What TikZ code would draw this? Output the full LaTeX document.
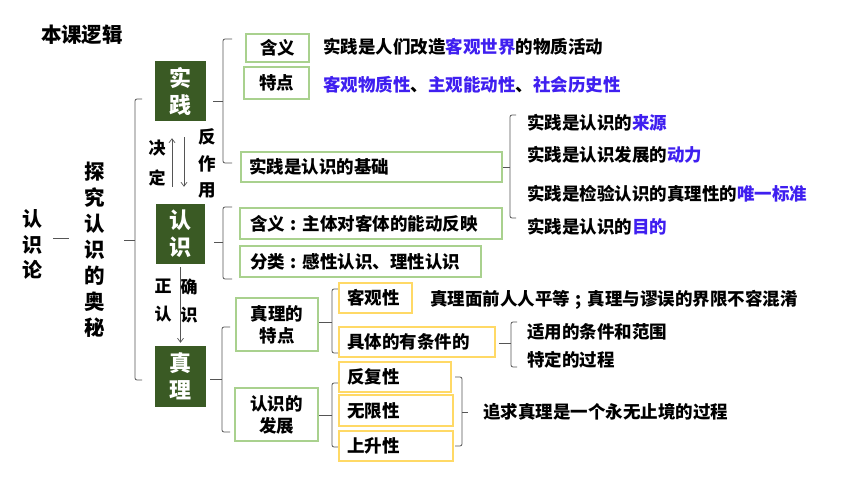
\documentclass[tikz,border=0pt]{standalone}
\usepackage{fontspec}
\setmainfont{Noto Sans CJK SC}
\usetikzlibrary{arrows.meta}
\definecolor{dg}{HTML}{3A5A24}
\definecolor{lg}{HTML}{A9D18E}
\definecolor{yl}{HTML}{FFD966}
\definecolor{bl}{HTML}{3F1FF0}
\definecolor{br}{HTML}{555555}
\newcommand{\mybrace}[4]{\draw[brk] (#2,#3) -- (#1,#3) -- (#1,#4) -- (#2,#4);}
\newcommand{\ccolon}{\makebox[1em][c]{:}}
\newcommand{\csemi}{\makebox[1em][c]{;}}
\begin{document}
\begin{tikzpicture}[x=1pt,y=-1pt,
  darkbox/.style={fill=dg, text=white, font=\fontsize{22}{27}\selectfont\bfseries, align=center, inner sep=0pt, minimum width=51pt, minimum height=60pt},
  lgbox/.style={draw=lg, line width=1.2pt, inner sep=0pt, font=\fontsize{17.5}{22}\selectfont\bfseries, align=center},
  ybox/.style={draw=yl, line width=1.2pt, inner sep=0pt, font=\fontsize{17.5}{22}\selectfont\bfseries, align=left},
  txt/.style={anchor=west, inner sep=0pt, font=\fontsize{17.5}{22}\selectfont\bfseries},
  vtxt/.style={inner sep=0pt, align=center},
  brk/.style={draw=br, line width=0.8pt, rounded corners=2pt},
  arr/.style={draw=br, line width=0.7pt, -{Straight Barb[length=4pt,width=6pt]}}
]
\useasboundingbox (0,0) rectangle (860,484);
\fill[white] (0,0) rectangle (860,484);

% title
\node[inner sep=0pt, font=\fontsize{20.5}{24}\selectfont\bfseries] (title) at (82,35) {本课逻辑};

% vertical labels
\node[vtxt, font=\fontsize{20}{25.5}\selectfont\bfseries] (rsl) at (33,244.5) {认\\识\\论};
\node[vtxt, font=\fontsize{20.5}{26}\selectfont\bfseries] (tj) at (95,250) {探\\究\\认\\识\\的\\奥\\秘};
\coordinate (dashL) at (53,238);
\coordinate (dashR) at (69,238);
\draw[brk] (dashL) -- (dashR);

% big bracket
\mybrace{135}{142}{99}{380}
\coordinate (b0) at (135,240);
\draw[brk] (b0) -- ++(-11,0);

% main dark boxes
\node[darkbox] (shijian) at (180.5,91) {实\\践};
\node[darkbox, minimum width=49pt] (renshi) at (180.5,234) {认\\识};
\node[darkbox, minimum height=61pt] (zhenli) at (180.5,376.5) {真\\理};

% arrows between
\draw[arr, shorten <=17pt, shorten >=17pt] ([xshift=-8.5pt]renshi.north) -- ([xshift=-8.5pt]shijian.south);
\draw[arr, shorten <=16pt, shorten >=17pt] ([xshift=3.5pt]shijian.south) -- ([xshift=3.5pt]renshi.north);
\draw[arr, shorten <=3pt, shorten >=3pt] (renshi.south) -- (zhenli.north);
\node[vtxt, font=\fontsize{17}{30}\selectfont\bfseries] (jd) at (157,163) {决\\定};
\node[vtxt, font=\fontsize{17.5}{26.5}\selectfont\bfseries] (fzy) at (207,163.5) {反\\作\\用};
\node[vtxt, font=\fontsize{17}{28}\selectfont\bfseries] (zr) at (163,301) {正\\认};
\node[vtxt, font=\fontsize{17}{28}\selectfont\bfseries] (qs) at (189,301) {确\\识};

% ---- 实践 branch
\mybrace{223}{232}{39}{163}
\coordinate (b1) at (223,101);
\draw[brk, shorten >=7pt] (b1) -- (b1 -| shijian.east);
\node[lgbox, minimum width=63pt, minimum height=28pt] (hy1) at (277.5,48) {含义};
\node[lgbox, minimum width=65pt, minimum height=32pt] (td1) at (276.5,83) {特点};
\node[txt] (t1) at (323,47) {实践是人们改造\textcolor{bl}{客观世界}的物质活动};
\node[txt, text=bl] (t2) at (323,85) {客观物质性\textcolor{black}{、}主观能动性\textcolor{black}{、}社会历史性};
\node[lgbox, align=left, text width=245pt, inner xsep=8pt, minimum height=30pt] (jc) at (371.5,167) {实践是认识的基础};

\mybrace{510}{516}{115}{218}
\coordinate (b2) at (510,167);
\draw[brk] (b2) -- (jc.east);
\node[txt] (ly) at (527,123) {实践是认识的\textcolor{bl}{来源}};
\node[txt] (dl) at (527,155) {实践是认识发展的\textcolor{bl}{动力}};
\node[txt] (wy) at (527,194) {实践是检验认识的真理性的\textcolor{bl}{唯一标准}};
\node[txt] (md) at (527,227) {实践是认识的\textcolor{bl}{目的}};

% ---- 认识 branch
\mybrace{223}{232}{207}{279}
\coordinate (b3) at (223,242);
\draw[brk, shorten >=9pt] (b3) -- (b3 -| renshi.east);
\node[lgbox, align=left, text width=242pt, inner xsep=10pt, minimum height=31pt] (hy2) at (371,223.5) {含义\ccolon 主体对客体的能动反映};
\node[lgbox, align=left, text width=221pt, inner xsep=10pt, minimum height=31pt] (fl) at (360.5,261.5) {分类\ccolon 感性认识、理性认识};

% ---- 真理 branch
\mybrace{222}{230}{327}{432}
\coordinate (b5) at (222,379);
\draw[brk, shorten >=4pt] (b5) -- (b5 -| zhenli.east);
\node[lgbox, minimum width=82pt, minimum height=53pt] (tzd) at (277,324.5) {真理的\\特点};
\node[lgbox, minimum width=83pt, minimum height=53pt] (fz) at (276.5,414.5) {认识的\\发展};

\mybrace{332}{338}{289}{353}
\coordinate (b6) at (332,322);
\draw[brk] (b6) -- (b6 -| tzd.east);
\mybrace{332}{338}{383}{447}
\coordinate (b7) at (332,415);
\draw[brk] (b7) -- (b7 -| fz.east);

\node[ybox, text width=57pt, inner xsep=8pt, minimum height=30pt] (kgx) at (375.5,298) {客观性};
\node[ybox, text width=140pt, inner xsep=8pt, minimum height=30pt] (jt) at (417,342) {具体的有条件的};
\node[ybox, text width=96pt, inner xsep=8pt, minimum height=30pt] (ffx) at (395,377) {反复性};
\node[ybox, text width=98pt, inner xsep=8pt, minimum height=31pt] (wxx) at (396,410.5) {无限性};
\node[ybox, text width=98pt, inner xsep=8pt, minimum height=30pt] (ssx) at (396,446) {上升性};

\node[txt] (zlmq) at (430,300) {真理面前人人平等\csemi 真理与谬误的界限不容混淆};

\mybrace{511}{517}{322}{367}
\coordinate (b8) at (511,343);
\draw[brk, shorten >=3pt] (b8) -- (b8 -| jt.east);
\node[txt] (sy) at (527,332) {适用的条件和范围};
\node[txt] (tdgc) at (527,360) {特定的过程};

\mybrace{462}{455}{377}{446}
\coordinate (b9) at (462,412);
\draw[brk] (b9) -- ++(6,0);
\node[txt] (zq) at (483,412) {追求真理是一个永无止境的过程};

\end{tikzpicture}
\end{document}
